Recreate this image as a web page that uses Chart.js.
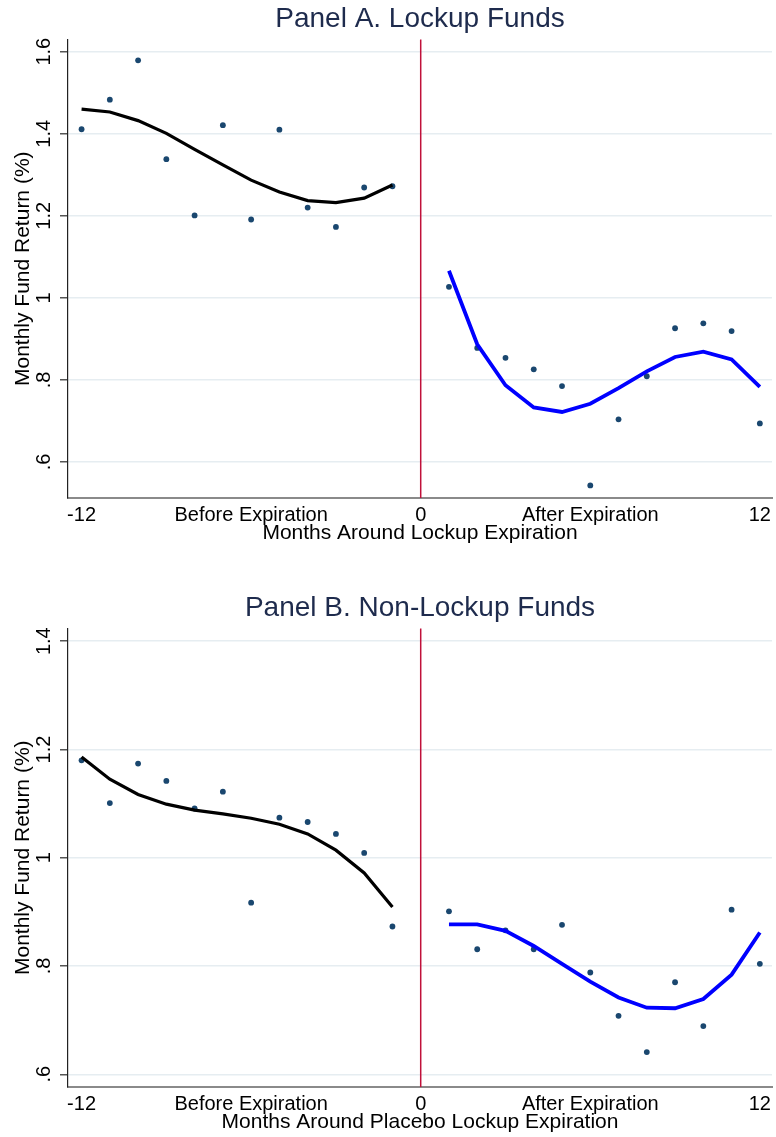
<!DOCTYPE html>
<html>
<head>
<meta charset="utf-8">
<script src="https://cdn.jsdelivr.net/npm/chart.js@4.4.1/dist/chart.umd.min.js"></script>
<style>
  html, body { margin: 0; padding: 0; background: #fff; overflow: hidden; }
  .panel { position: absolute; left: 0; width: 776px; height: 560px; }
</style>
</head>
<body>
<div class="panel" style="top:0px"><canvas id="panelA" width="776" height="560"></canvas></div>
<div class="panel" style="top:589px"><canvas id="panelB" width="776" height="560"></canvas></div>
<script>
// months around the (placebo) lockup expiration
const monthsBefore = [-12, -11, -10, -9, -8, -7, -6, -5, -4, -3, -2, -1];
const monthsAfter = [1, 2, 3, 4, 5, 6, 7, 8, 9, 10, 11, 12];

// Panel A: lockup funds
const lockupBefore = [1.411, 1.483, 1.579, 1.338, 1.201, 1.421, 1.191, 1.410, 1.220, 1.173, 1.269, 1.272];
const lockupAfter = [1.027, 0.878, 0.854, 0.826, 0.785, 0.543, 0.704, 0.809, 0.926, 0.938, 0.919, 0.694];
const lockupFitBefore = [1.460, 1.453, 1.432, 1.401, 1.362, 1.324, 1.287, 1.258, 1.237, 1.232, 1.243, 1.275];
const lockupFitAfter = [1.066, 0.887, 0.787, 0.733, 0.722, 0.742, 0.780, 0.821, 0.856, 0.869, 0.850, 0.783];

// Panel B: non-lockup funds
const nonLockupBefore = [1.180, 1.101, 1.174, 1.142, 1.091, 1.122, 0.917, 1.074, 1.066, 1.044, 1.009, 0.873];
const nonLockupAfter = [0.901, 0.831, 0.866, 0.831, 0.876, 0.788, 0.708, 0.641, 0.770, 0.689, 0.904, 0.804];
const nonLockupFitBefore = [1.186, 1.145, 1.117, 1.099, 1.088, 1.081, 1.073, 1.062, 1.044, 1.014, 0.972, 0.909];
const nonLockupFitAfter = [0.877, 0.877, 0.865, 0.837, 0.804, 0.771, 0.742, 0.723, 0.722, 0.739, 0.784, 0.862];

// axis ticks
const xTickValues = [-12, -6, 0, 6, 12];
const xTickLabels = ['-12', 'Before Expiration', '0', 'After Expiration', '12'];
const yTicksA = [0.6, 0.8, 1.0, 1.2, 1.4, 1.6];
const yTickLabelsA = ['.6', '.8', '1', '1.2', '1.4', '1.6'];
const yTicksB = [0.6, 0.8, 1.0, 1.2, 1.4];
const yTickLabelsB = ['.6', '.8', '1', '1.2', '1.4'];
const cutoffMonth = 0;

const FONT = "'Liberation Sans', Arial, sans-serif";
const pts = (xs, ys) => xs.map((x, i) => ({ x: x, y: ys[i] }));

// red line at expiration + rotated y tick labels (Stata style)
const extrasPlugin = {
    id: 'extras',
    beforeDatasetsDraw(chart) {
        const { ctx, chartArea } = chart;
        const px = chart.scales.x.getPixelForValue(cutoffMonth);
        ctx.save();
        ctx.strokeStyle = '#c0103a';
        ctx.lineWidth = 1.5;
        ctx.beginPath();
        ctx.moveTo(px, chartArea.top);
        ctx.lineTo(px, chartArea.bottom);
        ctx.stroke();
        ctx.restore();
    },
    afterDraw(chart) {
        const { ctx } = chart;
        const y = chart.scales.y;
        const labels = chart.options.plugins.extras.labels;
        ctx.save();
        ctx.font = '20px ' + FONT;
        ctx.fillStyle = '#000';
        ctx.textAlign = 'center';
        ctx.textBaseline = 'middle';
        y.ticks.forEach((t, i) => {
            ctx.save();
            ctx.translate(44.5, y.getPixelForValue(t.value));
            ctx.rotate(-Math.PI / 2);
            ctx.fillText(labels[i], 0, 0);
            ctx.restore();
        });
        ctx.restore();
    }
};

function makePanel(id, title, xTitle, yMin, yMax, yTicks, yLabels, before, after, fitBefore, fitAfter) {
    const ctx = document.getElementById(id).getContext('2d');
    return new Chart(ctx, {
        type: 'scatter',
        data: {
            datasets: [
                {
                    type: 'line',
                    data: pts(monthsBefore, fitBefore),
                    borderColor: '#000000',
                    borderWidth: 3.2,
                    pointRadius: 0,
                    tension: 0,
                    fill: false
                },
                {
                    type: 'line',
                    data: pts(monthsAfter, fitAfter),
                    borderColor: '#0000ff',
                    borderWidth: 3.8,
                    pointRadius: 0,
                    tension: 0,
                    fill: false
                },
                {
                    data: pts(monthsBefore, before).concat(pts(monthsAfter, after)),
                    backgroundColor: '#1a476f',
                    borderColor: '#1a476f',
                    pointRadius: 2.9,
                    borderWidth: 0
                }
            ]
        },
        options: {
            responsive: false,
            animation: false,
            devicePixelRatio: 1,
            layout: { padding: { left: 0, right: 3, top: 0, bottom: 0 } },
            scales: {
                x: {
                    type: 'linear',
                    min: -12.48,
                    max: 12.43,
                    afterBuildTicks: s => { s.ticks = xTickValues.map(v => ({ value: v })); },
                    afterFit: s => { s.height = 62; },
                    grid: { display: false },
                    border: { display: true, color: '#8a8a8a', width: 2 },
                    ticks: {
                        autoSkip: false,
                        maxRotation: 0,
                        padding: -2.6,
                        color: '#000',
                        font: { family: FONT, size: 20 },
                        callback: v => xTickLabels[xTickValues.indexOf(v)]
                    },
                    title: {
                        display: true,
                        text: xTitle,
                        color: '#000',
                        font: { family: FONT, size: 21 },
                        padding: { top: 0, bottom: 13.8 }
                    }
                },
                y: {
                    min: yMin,
                    max: yMax,
                    afterBuildTicks: s => { s.ticks = yTicks.map(v => ({ value: v })); },
                    afterFit: s => { s.width = 68; },
                    grid: {
                        color: '#e6edf1',
                        lineWidth: 1.5,
                        tickColor: '#555',
                        tickWidth: 1.5,
                        tickLength: 8
                    },
                    border: { display: true, color: '#222', width: 1.2 },
                    ticks: { display: false },
                    title: {
                        display: true,
                        text: 'Monthly Fund Return (%)',
                        color: '#000',
                        font: { family: FONT, size: 21 },
                        padding: { top: 10.9, bottom: 0 }
                    }
                }
            },
            plugins: {
                legend: { display: false },
                tooltip: { enabled: false },
                title: {
                    display: true,
                    text: title,
                    fullSize: false,
                    color: '#1e2b4d',
                    font: { family: FONT, size: 28, weight: 'normal' },
                    padding: { top: 2, bottom: 3.9 }
                },
                extras: { labels: yLabels }
            }
        },
        plugins: [extrasPlugin]
    });
}

makePanel('panelA', 'Panel A. Lockup Funds', 'Months Around Lockup Expiration',
    0.5123, 1.6297, yTicksA, yTickLabelsA,
    lockupBefore, lockupAfter, lockupFitBefore, lockupFitAfter);

makePanel('panelB', 'Panel B. Non-Lockup Funds', 'Months Around Placebo Lockup Expiration',
    0.5765, 1.4235, yTicksB, yTickLabelsB,
    nonLockupBefore, nonLockupAfter, nonLockupFitBefore, nonLockupFitAfter);
</script>
</body>
</html>
